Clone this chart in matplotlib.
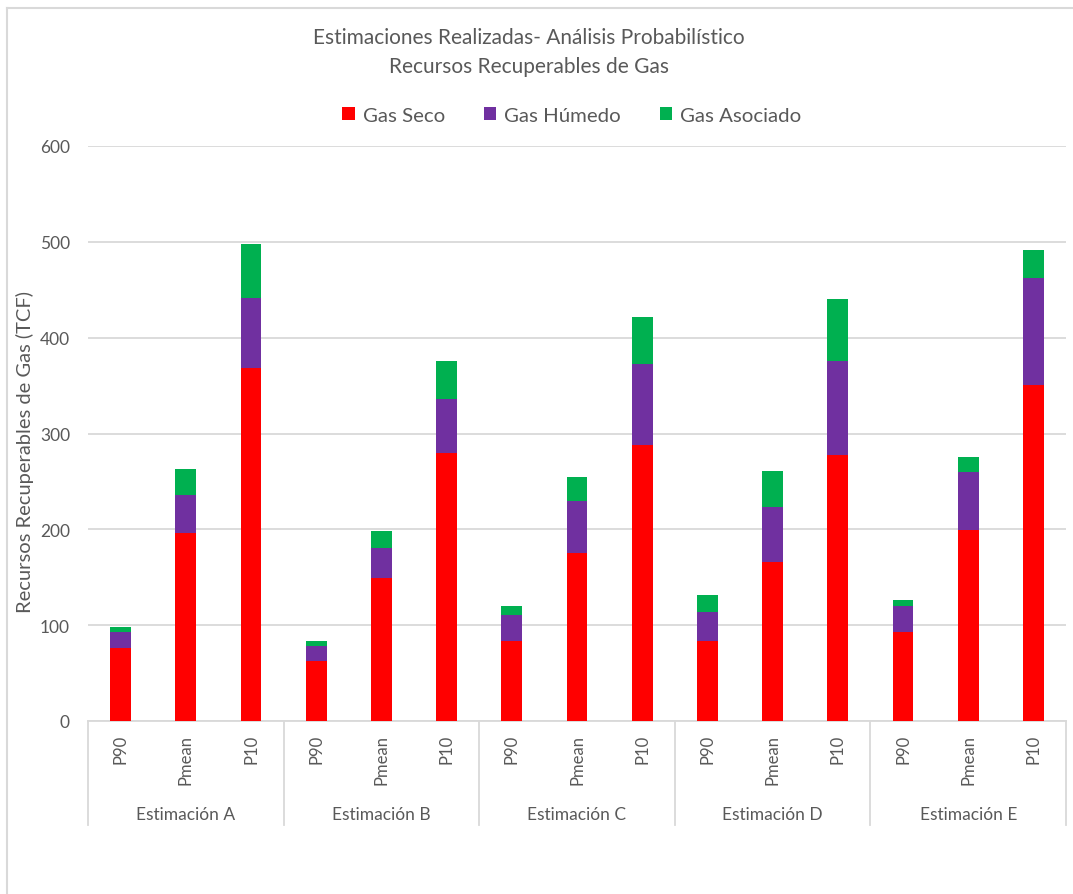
import numpy as np
import matplotlib
matplotlib.use("Agg")
import matplotlib.pyplot as plt
from matplotlib.lines import Line2D
from matplotlib.patches import Patch

plt.rcParams['font.family'] = ['Lato', 'DejaVu Sans']

# Recursos recuperables de gas (TCF) por estimación y percentil
estimaciones = ['Estimación A', 'Estimación B', 'Estimación C', 'Estimación D', 'Estimación E']
percentiles = ['P90', 'Pmean', 'P10']

gas_seco = [76, 196, 368,
            63, 149, 280,
            83, 175, 287.5,
            84, 165.5, 277.5,
            93, 199.5, 351]
gas_humedo = [17, 40, 73,
              15.5, 32, 56,
              28, 55, 85,
              29.5, 57.5, 98,
              27.5, 60.5, 111]
gas_asociado = [5, 26.5, 57,
                5, 17, 39.5,
                9, 24.5, 49,
                17.5, 37.5, 65,
                6, 16, 29]

gris = '#595959'
rejilla = '#D9D9D9'
colores = {'Gas Seco': '#FF0000', 'Gas Húmedo': '#7030A0', 'Gas Asociado': '#00B050'}

W, H = 1073, 895
fig = plt.figure(figsize=(W / 100, H / 100), dpi=100)
ax = fig.add_axes([88 / W, 1 - 722 / H, (1066 - 88) / W, (722 - 147) / H])

x = np.arange(len(gas_seco))
seco = np.array(gas_seco)
humedo = np.array(gas_humedo)
asociado = np.array(gas_asociado)
ancho = 0.32
ax.bar(x, seco, ancho, color=colores['Gas Seco'], zorder=3)
ax.bar(x, humedo, ancho, bottom=seco, color=colores['Gas Húmedo'], zorder=3)
ax.bar(x, asociado, ancho, bottom=seco + humedo, color=colores['Gas Asociado'], zorder=3)

ax.set_xlim(-0.5, len(x) - 0.5)
ax.set_ylim(0, 600)
ax.set_yticks(range(0, 601, 100))
ax.grid(axis='y', color=rejilla, linewidth=1.3, zorder=0)
for s in ['top', 'right', 'left']:
    ax.spines[s].set_visible(False)
ax.spines['bottom'].set_color(rejilla)
ax.spines['bottom'].set_linewidth(1.3)

ax.set_xticks(x)
ax.set_xticklabels(percentiles * len(estimaciones), rotation=90, va='top')
ax.tick_params(axis='x', length=0, pad=9.5, labelsize=12, labelcolor=gris)
ax.tick_params(axis='y', length=0, pad=13, labelsize=12.5, labelcolor=gris)

# separadores de grupo y nombres de estimación
tr = ax.get_xaxis_transform()
n = len(percentiles)
for i in range(len(estimaciones) + 1):
    xs = i * n - 0.5
    ax.plot([xs, xs], [0, -104 / 575], transform=tr, color=rejilla,
            linewidth=1.3, clip_on=False)
for i, nombre in enumerate(estimaciones):
    ax.text(i * n + 1, -93 / 575, nombre, transform=tr, ha='center', va='center',
            fontsize=12.5, color=gris)

fig.text(25 / W, 1 - 452 / H, 'Recursos Recuperables de Gas (TCF)', rotation=90,
         ha='center', va='center', fontsize=14.5, color=gris)

fig.text(529 / W, 1 - 38 / H, 'Estimaciones Realizadas- Análisis Probabilístico',
         ha='center', va='center', fontsize=15, color=gris)
fig.text(529 / W, 1 - 67 / H, 'Recursos Recuperables de Gas',
         ha='center', va='center', fontsize=15, color=gris)

handles = [Patch(facecolor=c, edgecolor='none') for c in colores.values()]
fig.legend(handles, list(colores.keys()), loc='center', bbox_to_anchor=(572 / W, 1 - 116 / H),
           ncol=3, frameon=False, fontsize=14.7, labelcolor=gris, handlelength=0.6,
           handleheight=0.6, handletextpad=0.4, columnspacing=1.9)

# marco exterior del gráfico
fig.add_artist(Line2D([7 / W, 7 / W], [0, 1 - 9 / H], color=rejilla, linewidth=1.5))
fig.add_artist(Line2D([7 / W, 1], [1 - 9 / H, 1 - 9 / H], color=rejilla, linewidth=1.5))

fig.savefig('out.png', dpi=100, facecolor='white')
